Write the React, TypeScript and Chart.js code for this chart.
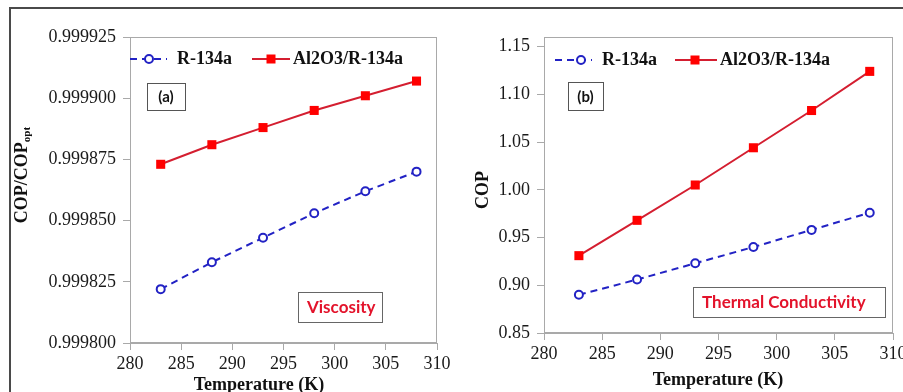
import React, { useEffect, useRef } from 'react';
import { Chart, registerables } from 'chart.js';
Chart.register(...registerables);

// ---- data ----
const temperatures = [283, 288, 293, 298, 303, 308];
const seriesNames = ['R-134a', 'Al2O3/R-134a'];
const viscR134a = [0.999822, 0.999833, 0.999843, 0.999853, 0.999862, 0.99987];
const viscNano = [0.999873, 0.999881, 0.999888, 0.999895, 0.999901, 0.999907];
const condR134a = [0.89, 0.906, 0.923, 0.94, 0.958, 0.976];
const condNano = [0.931, 0.968, 1.005, 1.044, 1.083, 1.124];
const xTicks = [280, 285, 290, 295, 300, 305, 310];
const viscTicks = [0.9998, 0.999825, 0.99985, 0.999875, 0.9999, 0.999925];
const condTicks = [0.85, 0.9, 0.95, 1.0, 1.05, 1.1, 1.15];
const xTitle = 'Temperature (K)';
const viscYTitle = 'COP/COP';
const viscYSub = 'opt';
const condYTitle = 'COP';
const viscTag = '(a)';
const condTag = '(b)';
const viscNote = 'Viscosity';
const condNote = 'Thermal Conductivity';

const SERIF = '"Liberation Serif", "Times New Roman", serif';
const SANS = 'Lato, "Liberation Sans", sans-serif';
const BLUE = '#2222c4';
const RED = '#d41e30';
const AXIS = '#a9a9a9';

type Panel = {
  offset: number;
  width: number;
  r134a: number[];
  nano: number[];
  yMin: number;
  yMax: number;
  yTicks: number[];
  decimals: number;
  yWidth: number;
  xHeight: number;
  padRight: number;
  legend: { y: number; r: number[]; n: number[] }; // [x0, x1, marker, text]
  tag: { text: string; x: number; y: number; w: number; h: number };
  note: { text: string; x: number; y: number; w: number; h: number };
  yTitle: { x: number; y: number; main: string; sub?: string };
  xTitle: { x: number; y: number };
};

function drawCircle(ctx: CanvasRenderingContext2D, x: number, y: number) {
  ctx.save();
  ctx.setLineDash([]);
  ctx.beginPath();
  ctx.arc(x, y, 4, 0, Math.PI * 2);
  ctx.fillStyle = '#ffffff';
  ctx.fill();
  ctx.lineWidth = 2;
  ctx.strokeStyle = BLUE;
  ctx.stroke();
  ctx.restore();
}

function drawSquare(ctx: CanvasRenderingContext2D, x: number, y: number) {
  ctx.save();
  ctx.fillStyle = '#ff0000';
  ctx.fillRect(x - 4.5, y - 4.5, 9, 9);
  ctx.restore();
}

function makePlugin(p: Panel) {
  const o = p.offset;
  return {
    id: 'decor' + o,
    afterDraw(chart: any) {
      const ctx: CanvasRenderingContext2D = chart.ctx;
      const a = chart.chartArea;
      ctx.save();
      // plot frame
      ctx.strokeStyle = AXIS;
      ctx.lineWidth = 1;
      ctx.strokeRect(a.left + 0.5, a.top + 0.5, a.right - a.left - 1, a.bottom - a.top - 1);

      // legend
      const ly = p.legend.y;
      ctx.font = 'bold 18px ' + SERIF;
      ctx.textBaseline = 'middle';
      ctx.textAlign = 'left';
      ctx.fillStyle = '#111';
      // R-134a
      ctx.strokeStyle = BLUE;
      ctx.lineWidth = 2;
      ctx.setLineDash([7, 5]);
      ctx.beginPath();
      ctx.moveTo(p.legend.r[0] - o, ly);
      ctx.lineTo(p.legend.r[1] - o, ly);
      ctx.stroke();
      ctx.setLineDash([]);
      drawCircle(ctx, p.legend.r[2] - o, ly);
      ctx.fillText(seriesNames[0], p.legend.r[3] - o, ly);
      // nano
      ctx.strokeStyle = RED;
      ctx.beginPath();
      ctx.moveTo(p.legend.n[0] - o, ly);
      ctx.lineTo(p.legend.n[1] - o, ly);
      ctx.stroke();
      drawSquare(ctx, p.legend.n[2] - o, ly);
      ctx.fillStyle = '#111';
      ctx.fillText(seriesNames[1], p.legend.n[3] - o, ly);

      // tag box
      const t = p.tag;
      ctx.strokeStyle = '#555';
      ctx.lineWidth = 1;
      ctx.strokeRect(t.x - o + 0.5, t.y + 0.5, t.w, t.h);
      ctx.font = 'bold 15px ' + SANS;
      ctx.textAlign = 'center';
      ctx.fillStyle = '#111';
      ctx.fillText(t.text, t.x - o + t.w / 2, t.y + t.h / 2 + 1);

      // note box
      const n = p.note;
      ctx.strokeStyle = '#666';
      ctx.strokeRect(n.x - o + 0.5, n.y + 0.5, n.w, n.h);
      ctx.font = 'bold 17px ' + SANS;
      ctx.textAlign = 'left';
      ctx.fillStyle = '#e3132b';
      ctx.fillText(n.text, n.x - o + 9, n.y + n.h / 2 + 1);

      // x title
      ctx.font = 'bold 18px ' + SERIF;
      ctx.textAlign = 'center';
      ctx.fillStyle = '#111';
      ctx.fillText(xTitle, p.xTitle.x - o, p.xTitle.y);

      // y title
      ctx.save();
      ctx.translate(p.yTitle.x - o, p.yTitle.y);
      ctx.rotate(-Math.PI / 2);
      ctx.textAlign = 'left';
      ctx.font = 'bold 18px ' + SERIF;
      const w1 = ctx.measureText(p.yTitle.main).width;
      let w2 = 0;
      if (p.yTitle.sub) {
        ctx.font = 'bold 11px ' + SERIF;
        w2 = ctx.measureText(p.yTitle.sub).width;
      }
      const start = -(w1 + w2) / 2;
      ctx.font = 'bold 18px ' + SERIF;
      ctx.fillText(p.yTitle.main, start, 0);
      if (p.yTitle.sub) {
        ctx.font = 'bold 11px ' + SERIF;
        ctx.fillText(p.yTitle.sub, start + w1, 5);
      }
      ctx.restore();

      ctx.restore();
    },
  };
}

function buildChart(canvas: HTMLCanvasElement, p: Panel) {
  const pts = (ys: number[]) => temperatures.map((x, i) => ({ x, y: ys[i] }));
  return new Chart(canvas, {
    type: 'line',
    data: {
      datasets: [
        {
          label: seriesNames[0],
          data: pts(p.r134a),
          borderColor: BLUE,
          borderWidth: 2,
          borderDash: [7, 5],
          pointStyle: 'circle',
          pointRadius: 4,
          pointBorderWidth: 2,
          pointBackgroundColor: '#ffffff',
          pointBorderColor: BLUE,
          fill: false,
        },
        {
          label: seriesNames[1],
          data: pts(p.nano),
          borderColor: RED,
          borderWidth: 2,
          pointStyle: 'rect',
          pointRadius: 6.4,
          pointBorderWidth: 0,
          pointBackgroundColor: '#ff0000',
          pointBorderColor: '#ff0000',
          fill: false,
        },
      ],
    },
    options: {
      animation: false,
      responsive: false,
      devicePixelRatio: 1,
      layout: { padding: { left: 0, top: 37, right: p.padRight, bottom: 0 } },
      plugins: { legend: { display: false }, tooltip: { enabled: false } },
      scales: {
        x: {
          type: 'linear',
          min: 280,
          max: 310,
          afterBuildTicks: (s: any) => {
            s.ticks = xTicks.map((v) => ({ value: v }));
          },
          afterFit: (s: any) => {
            s.height = p.xHeight;
            s.paddingLeft = 0;
            s.paddingRight = 0;
          },
          ticks: {
            autoSkip: false,
            maxRotation: 0,
            padding: 3,
            color: '#1a1a1a',
            font: { family: SERIF, size: 18 },
            callback: (v: any) => String(v),
          },
          grid: { drawOnChartArea: false, drawTicks: true, tickLength: 7, color: AXIS },
          border: { display: true, color: AXIS },
        },
        y: {
          type: 'linear',
          min: p.yMin,
          max: p.yMax,
          afterBuildTicks: (s: any) => {
            s.ticks = p.yTicks.map((v) => ({ value: v }));
          },
          afterFit: (s: any) => {
            s.width = p.yWidth;
            s.paddingTop = 0;
            s.paddingBottom = 0;
          },
          ticks: {
            autoSkip: false,
            padding: 7,
            color: '#1a1a1a',
            font: { family: SERIF, size: 18 },
            callback: (v: any) => Number(v).toFixed(p.decimals),
          },
          grid: { drawOnChartArea: false, drawTicks: true, tickLength: 7, color: AXIS },
          border: { display: true, color: AXIS },
        },
      },
    },
    plugins: [makePlugin(p)],
  } as any);
}

const leftPanel: Panel = {
  offset: 0,
  width: 455,
  r134a: viscR134a,
  nano: viscNano,
  yMin: 0.9998,
  yMax: 0.999925,
  yTicks: viscTicks,
  decimals: 6,
  yWidth: 130,
  xHeight: 49,
  padRight: 18,
  legend: { y: 59, r: [130, 167, 149, 177], n: [252, 290, 271, 293] },
  tag: { text: viscTag, x: 147, y: 83, w: 38, h: 27 },
  note: { text: viscNote, x: 298, y: 292, w: 84, h: 30 },
  yTitle: { x: 22, y: 175, main: viscYTitle, sub: viscYSub },
  xTitle: { x: 259, y: 385 },
};

const rightPanel: Panel = {
  offset: 455,
  width: 448,
  r134a: condR134a,
  nano: condNano,
  yMin: 0.85,
  yMax: 1.16,
  yTicks: condTicks,
  decimals: 2,
  yWidth: 89,
  xHeight: 59,
  padRight: 10,
  legend: { y: 60, r: [555, 592, 581, 602], n: [675, 717, 695, 720] },
  tag: { text: condTag, x: 568, y: 82, w: 35, h: 28 },
  note: { text: condNote, x: 693, y: 287, w: 192, h: 30 },
  yTitle: { x: 483, y: 190, main: condYTitle },
  xTitle: { x: 718, y: 380 },
};

function PanelCanvas({ p }: { p: Panel }) {
  const ref = useRef<HTMLCanvasElement | null>(null);
  useEffect(() => {
    if (!ref.current) return;
    const c = buildChart(ref.current, p);
    return () => c.destroy();
  }, [p]);
  return (
    <canvas
      ref={ref}
      width={p.width}
      height={392}
      style={{ position: 'absolute', left: p.offset, top: 0, width: p.width, height: 392 }}
    />
  );
}

export default function App() {
  return (
    <div
      style={{
        position: 'absolute',
        left: 0,
        top: 0,
        width: 903,
        height: 392,
        background: '#ffffff',
        overflow: 'hidden',
      }}
    >
      <div
        style={{
          position: 'absolute',
          left: 9,
          top: 7,
          width: 900,
          height: 400,
          borderTop: '2px solid #4a4a4a',
          borderLeft: '2px solid #4a4a4a',
        }}
      />
      <PanelCanvas p={leftPanel} />
      <PanelCanvas p={rightPanel} />
    </div>
  );
}
